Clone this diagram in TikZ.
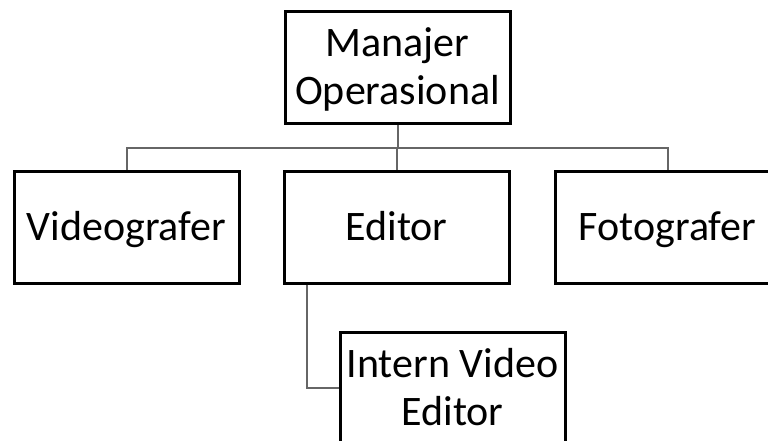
\documentclass[tikz,border=0pt]{standalone}
\usepackage{fontspec}
\setmainfont{Carlito}
\usetikzlibrary{positioning}

\begin{document}
\begin{tikzpicture}[x=1pt, y=-1pt,
  every box/.style={draw=black, line width=3pt, minimum width=225pt, minimum height=112pt,
    inner sep=0pt, align=center, text depth=0.22em, font=\fontsize{42}{48}\selectfont},
  link/.style={draw=black!60, line width=2pt}]

\useasboundingbox (0,0) rectangle (768,440);

\node [every box] (manager) at (397.5,67.5) {Manajer\\Operasional};

\foreach \n/\t/\x in {video/Videografer/126.5, editor/Editor/396.5, foto/Fotografer/667.5}
  \node [every box] (\n) at (\x,227) {\t};

\node [every box] (intern) at (452.5,388) {Intern Video\\Editor};

\draw [link] (manager.south) -- ++(0,23) coordinate (bus);
\foreach \n in {video,editor,foto}
  \draw [link] (bus) -| (\n.north);

\draw [link] ([xshift=24pt]editor.south west) |- (intern.west);

\end{tikzpicture}
\end{document}
